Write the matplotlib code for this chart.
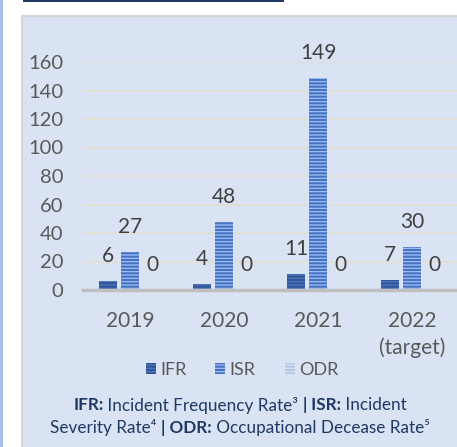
import matplotlib.pyplot as plt
from matplotlib.patches import Rectangle
import numpy as np

years = ["2019", "2020", "2021", "2022\n(target)"]
ifr = [6, 4, 11, 7]
isr = [27, 48, 149, 30]
odr = [0, 0, 0, 0]
series_names = ["IFR", "ISR", "ODR"]

W, H = 457, 447
plt.rcParams['font.family'] = ['Lato', 'DejaVu Sans']
plt.rcParams['hatch.linewidth'] = 0.9

fig = plt.figure(figsize=(W / 100, H / 100), dpi=100)
fig.patch.set_facecolor("white")

def px(x0, y0, x1, y1):
    # pixel box (top-left origin) -> figure fraction rect
    return [x0 / W, 1 - y1 / H, (x1 - x0) / W, (y1 - y0) / H]

# light blue panel behind the chart
r = px(22, 16, W + 5, H + 5)
fig.patches.append(Rectangle((r[0], r[1]), r[2], r[3], transform=fig.transFigure,
                             facecolor="#dae3f3", edgecolor="#d4d4d4", linewidth=1.5,
                             zorder=-2))
# left blue stripe and top navy rule
fig.patches.append(Rectangle((0, 0), 3 / W, 1, transform=fig.transFigure,
                             facecolor="#a9bfee", edgecolor="none", zorder=-2))
fig.patches.append(Rectangle((23 / W, 1 - 2 / H), (284 - 23) / W, 2 / H,
                             transform=fig.transFigure, facecolor="#1f3864",
                             edgecolor="none", zorder=-2))

ax = fig.add_axes(px(83, 62, 459, 290))
ax.set_facecolor("none")

x = np.arange(len(years))
bw, step = 0.2, 0.235
styles = [("#2f5597", "#5478bd"), ("#4472c4", "#a3bff0"), ("#b4c7e7", "#d4e0f5")]
for i, (vals, name) in enumerate(zip([ifr, isr, odr], series_names)):
    fc, hc = styles[i]
    bars = ax.bar(x + (i - 1) * step, vals, bw, color=fc, edgecolor=hc, linewidth=0,
                  hatch="-----", label=name, zorder=3)
    for b, v in zip(bars, vals):
        ax.annotate(str(v), (b.get_x() + b.get_width() / 2, v), xytext=(0, 18),
                    textcoords="offset points", ha="center", va="center",
                    fontsize=15, color="#404040", annotation_clip=False, zorder=4)

ax.set_xlim(-0.5, 3.5)
ax.set_ylim(0, 160)
ax.set_yticks(range(0, 161, 20))
ax.yaxis.grid(True, color="#e3ddd0", linewidth=1.2, zorder=0)
ax.set_axisbelow(True)
for s in ["top", "right", "left"]:
    ax.spines[s].set_visible(False)
ax.spines["bottom"].set_color("#bfbfbf")
ax.spines["bottom"].set_linewidth(2.5)
ax.spines["bottom"].set_zorder(5)
ax.tick_params(axis="y", length=0, pad=14, labelsize=14.5, labelcolor="#595959")
ax.tick_params(axis="x", length=0, pad=15, labelsize=15, labelcolor="#595959")
ax.set_xticks(x)
ax.set_xticklabels(years, linespacing=1.4)

leg = fig.legend(loc="center", bbox_to_anchor=(242 / W, 1 - 370 / H), ncol=3, frameon=False,
                 fontsize=13, labelcolor="#595959", handlelength=0.55, handleheight=0.55,
                 handletextpad=0.25, columnspacing=1.6)

# footnote lines with mixed bold/regular runs, centred
foot = [
    [("IFR:", "bold"), (" Incident Frequency Rate³ ", "normal"), ("|", "bold"),
     (" ISR:", "bold"), (" Incident", "normal")],
    [("Severity Rate⁴ ", "normal"), ("| ODR:", "bold"), (" Occupational Decease Rate⁵", "normal")],
]
fig.canvas.draw()
rend = fig.canvas.get_renderer()
for line, yc in zip(foot, [405, 428]):
    texts = [fig.text(0, 1 - yc / H, s, fontsize=12.3, fontweight=wt, color="#1f3864",
                      ha="left", va="center") for s, wt in line]
    widths = [t.get_window_extent(rend).width for t in texts]
    xpos = 240 - sum(widths) / 2
    for t, w in zip(texts, widths):
        t.set_x(xpos / W)
        xpos += w

fig.savefig("out.png", dpi=100)
